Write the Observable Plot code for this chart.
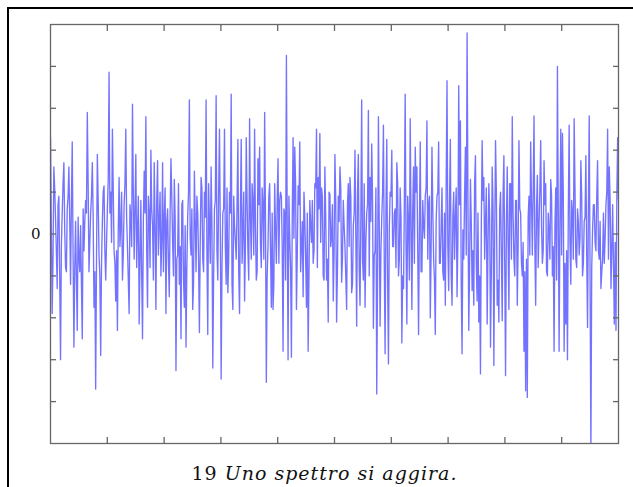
<!DOCTYPE html>
<html><head><meta charset="utf-8">
<script src="https://cdn.jsdelivr.net/npm/d3@7"></script>
<script src="https://cdn.jsdelivr.net/npm/@observablehq/plot@0.6"></script>
<style>
body{margin:0;background:#fff;width:633px;height:487px;overflow:hidden;position:relative}
#box{position:absolute;left:7px;top:7px;width:700px;height:600px;border-left:2px solid #000;border-top:2px solid #000}
#chart{position:absolute;left:0;top:0}
#cap{position:absolute;left:8px;width:633px;top:464px;text-align:center;font-family:"DejaVu Serif",serif;font-size:19px;letter-spacing:1px;line-height:1;color:#111;white-space:nowrap}
</style></head>
<body>
<div id="box"></div>
<div id="chart"></div>
<div id="cap">19 <i>Uno spettro si aggira.</i></div>
<script>
// peaks, strip by strip
const seg1 = [2.3,-1.9,1.6,0.4,-1.3,0.9,-3.0,0.5,1.7,-0.8,0.6,1.6,-1.2,2.2,-2.7,0.3,-2.3,-0.6,0.2,-2.5,-0.4,0.8,2.9,-0.9,0.5,1.7,-1.75,-3.7,1.9,-0.5,-2.9,0.3,1.15,-1.1,0.6,3.86,1.0,2.5,-0.4,-1.6,-2.3,1.35,0.2,-1.1,0.7,2.5,-0.3,-1.9,0.4,3.1,-0.6,1.9,0.1,-2.15,0.8,-2.5,1.5];
const seg2 = [2.8,-1.75,0.5,2.0,0.2,1.7,-1.8,1.75,0.3,-1.0,1.7,0.4,-1.9,0.6,-1.5,1.8,-0.2,1.3,-3.26,-0.5,-1.2,-2.5,0.8,-1.75,-2.7,0.4,3.2,-0.5,-1.8,1.5,-0.9,0.5,-2.35,1.35,-0.6,1.0,3.2,-2.4,0.3,1.6,-3.2,0.6,3.3,-1.1,2.5,-3.46,0.5,2.5,-1.2,-1.4,1.0,3.34,-1.8,0.2,-0.6,2.26];
const seg3 = [-1.9,2.26,0.1,-1.6,2.3,-0.4,2.75,-0.6,0.8,2.5,-1.1,1.8,2.07,-0.8,0.7,2.9,-3.54,-0.3,1.2,-1.75,-1.8,1.2,-0.7,1.8,0.8,0.9,-2.8,0.5,4.26,-3.0,-0.1,-2.94,2.3,2.07,-1.8,1.15,2.2,-0.3,-1.5,0.4,-1.75,-2.8,0.8,-0.2,-0.7,1.2,2.5,1.35,2.4,1.1,-1.0,1.6,-1.1,-2.1,0.95,-0.1];
const seg4 = [-1.6,1.9,-2.1,0.9,1.6,-1.15,0.8,-0.3,-1.8,1.2,1.35,-1.4,0.2,2.0,-2.2,1.9,-1.7,3.2,-1.1,-1.75,0.5,2.95,1.35,2.15,-2.25,-0.4,-3.82,2.8,-2.2,0.4,2.6,-2.86,2.26,-3.1,1.0,2.0,-0.3,0.6,1.7,-1.0,1.1,-2.6,-1.3,3.34,-2.15,0.3,2.75,-1.8,1.6,2.07,1.6,-2.4,2.2,-0.9,0.2,0.9,2.7];
const seg5 = [0.7,-2.0,2.07,-0.6,-2.4,0.9,2.2,-0.7,1.1,-1.1,-1.7,3.66,-1.35,2.26,-1.7,1.0,0.4,-1.5,3.54,2.7,-2.86,-0.6,2.07,4.8,-2.3,1.3,-1.35,-1.7,1.87,-1.6,-2.1,-3.34,2.23,1.35,0.3,-2.15,1.2,-2.7,1.6,-3.14,2.23,-1.7,-2.1,1.0,-2.07,1.87,-3.38,1.6,-1.8,1.2,2.8,-0.6,0.8,-1.7,2.23,0.5];
const seg6 = [-1.0,-2.8,-3.74,-3.9,0.9,2.2,-0.5,2.82,-1.7,1.4,0.2,2.23,-0.7,1.75,1.2,-1.0,0.1,1.3,-1.0,-2.8,1.1,4.0,-2.8,2.5,2.4,-2.8,-2.15,-3.0,2.6,-1.2,0.5,2.75,-0.6,0.6,-0.5,1.75,-1.0,0.3,1.87,-2.23,2.82,-5.2,0.1,0.7,-0.4,1.75,-0.6,-1.3,-0.6,-0.7,0.7,2.5,1.6,-1.3,0.7,-2.15,-2.3,2.3,0.8];
// dense core values in between the peaks
const mid1 = [0.2,-0.6,1.1,-0.4,0.7,-1.0,-0.3,1.2,0.1,-0.9,0.9,0.3,0.8,-0.5,-0.8,-1.1,0.4,-0.9,-1.2,0.6,0.3,0.5,1.2,-0.2,0.9,0.4,-0.9,-0.6,0.8,-1.0,-0.7,1.0,-0.4,-0.2,1.3,0.5,-0.2,1.1,-0.7,-0.4,0.1,-0.3,1.0,-0.5,1.2,0.4,-1.1,0.7,-0.3,1.0,0.6,-0.8,0.9,-0.6,-1.0,0.3,0.5];
const mid2 = [-0.4,0.9,-0.8,0.6,-1.1,0.2,0.8,-0.5,1.0,-0.2,-0.9,1.1,0.3,-0.7,0.5,0.9,-1.0,0.4,-0.6,1.2,-0.3,0.7,-1.1,0.2,-0.8,1.0,-0.1,0.6,-1.2,0.3,0.9,-0.6,-0.2,1.1,-0.9,0.4,-0.5,1.2,-0.7,0.2,-1.0,0.8,-0.4,1.0,0.1,-0.8,0.6,-0.3,1.1,-0.6,0.5,-1.2,0.9,-0.2,0.7,-0.9];
const mid3 = [0.6,-0.7,1.0,-0.3,0.8,-1.1,0.4,1.2,-0.5,0.2,-0.9,0.7,-0.2,1.1,-0.6,0.3,-1.0,0.9,-0.4,0.5,-1.2,0.1,0.8,-0.7,1.0,-0.3,0.6,-1.1,0.2,0.9,-0.8,0.4,-0.1,1.2,-0.5,0.7,-0.9,0.3,1.0,-0.6,0.5,-1.0,0.2,0.8,-0.4,1.1,-0.8,0.6,-0.2,0.9,-1.1,0.4,-0.6,1.0,-0.3,0.7];
const mid4 = [-0.5,0.8,-0.9,0.3,1.1,-0.6,0.2,-1.0,0.7,-0.3,0.9,-1.2,0.5,-0.1,1.0,-0.8,0.4,-0.6,1.2,-0.2,0.7,-1.0,0.3,0.8,-0.5,1.1,-0.9,0.2,-0.4,1.0,-0.7,0.6,-1.1,0.1,0.9,-0.3,0.5,-0.8,1.2,-0.6,0.4,-1.0,0.7,-0.2,0.9,-1.1,0.3,0.6,-0.7,1.0,-0.4,0.2,-0.9,0.8,-0.1,1.1,-0.6];
const mid5 = [0.9,-0.4,0.6,-1.1,0.3,1.0,-0.7,0.2,-0.9,0.5,1.2,-0.3,0.8,-1.0,0.4,-0.6,1.1,-0.2,0.7,-1.2,0.1,0.9,-0.5,1.0,-0.8,0.3,-0.4,1.2,-0.7,0.5,-1.0,0.2,0.8,-0.6,1.1,-0.3,0.4,-0.9,0.7,-0.1,1.0,-1.1,0.6,-0.5,0.9,-0.8,0.3,-0.2,1.2,-0.6,0.5,-1.0,0.8,-0.3,0.6,-0.7];
const mid6 = [-0.2,-0.9,-0.6,0.4,-0.5,0.8,1.0,-0.3,0.6,-0.8,1.1,0.2,-0.4,0.7,-0.9,0.5,-0.6,0.9,-0.3,0.2,-1.1,0.6,0.3,-0.5,1.0,-0.7,-0.4,0.5,-0.2,0.8,-0.6,1.1,-0.8,0.3,-0.1,0.9,-0.7,0.4,-0.5,0.6,-1.0,-0.8,0.7,-0.2,0.9,-0.4,0.3,-0.9,0.5,-0.1,1.0,-0.6,0.8,-0.4,-0.7,-0.2,0.9];
const segs = [seg1, seg2, seg3, seg4, seg5, seg6];
const mids = [mid1, mid2, mid3, mid4, mid5, mid6];
const signal = [];
segs.forEach((s, j) => s.forEach((v, k) => {
  signal.push(v);
  if (k < mids[j].length) signal.push(mids[j][k]);
}));
const xTickFractions = [0.1, 0.2, 0.3, 0.4, 0.5, 0.6, 0.7, 0.8, 0.9];
const yTicks = [-4, -3, -2, -1, 0, 1, 2, 3, 4];
const yLabels = [0];

const n = signal.length - 1;
const data = signal.map((v, i) => ({i, v}));
const xTicks = xTickFractions.map(f => f * n);
const noText = () => "";
const tickStyle = {tickSize: -6, tickFormat: noText, label: null, stroke: "#666", strokeWidth: 1.3};
const chart = Plot.plot({
  width: 633, height: 450,
  marginLeft: 50, marginRight: 15, marginTop: 24, marginBottom: 7,
  x: {domain: [0, n]},
  y: {domain: [-5, 5]},
  style: {background: "transparent"},
  marks: [
    Plot.line(data, {x: "i", y: "v", stroke: "#0000ff", strokeOpacity: 0.55, strokeWidth: 1.35, clip: true}),
    Plot.axisX({anchor: "bottom", ticks: xTicks, ...tickStyle}),
    Plot.axisX({anchor: "top", ticks: xTicks, ...tickStyle}),
    Plot.axisY({anchor: "left", ticks: yTicks, ...tickStyle}),
    Plot.axisY({anchor: "right", ticks: yTicks, ...tickStyle}),
    Plot.axisY({anchor: "left", ticks: yLabels, tickSize: 0, tickPadding: 10, label: null, tickFormat: d => String(d), fontFamily: "DejaVu Serif", fontSize: 15, fill: "#111"}),
    Plot.frame({stroke: "#666", strokeWidth: 1.3})
  ]
});
document.getElementById("chart").appendChild(chart);
</script>
</body></html>
